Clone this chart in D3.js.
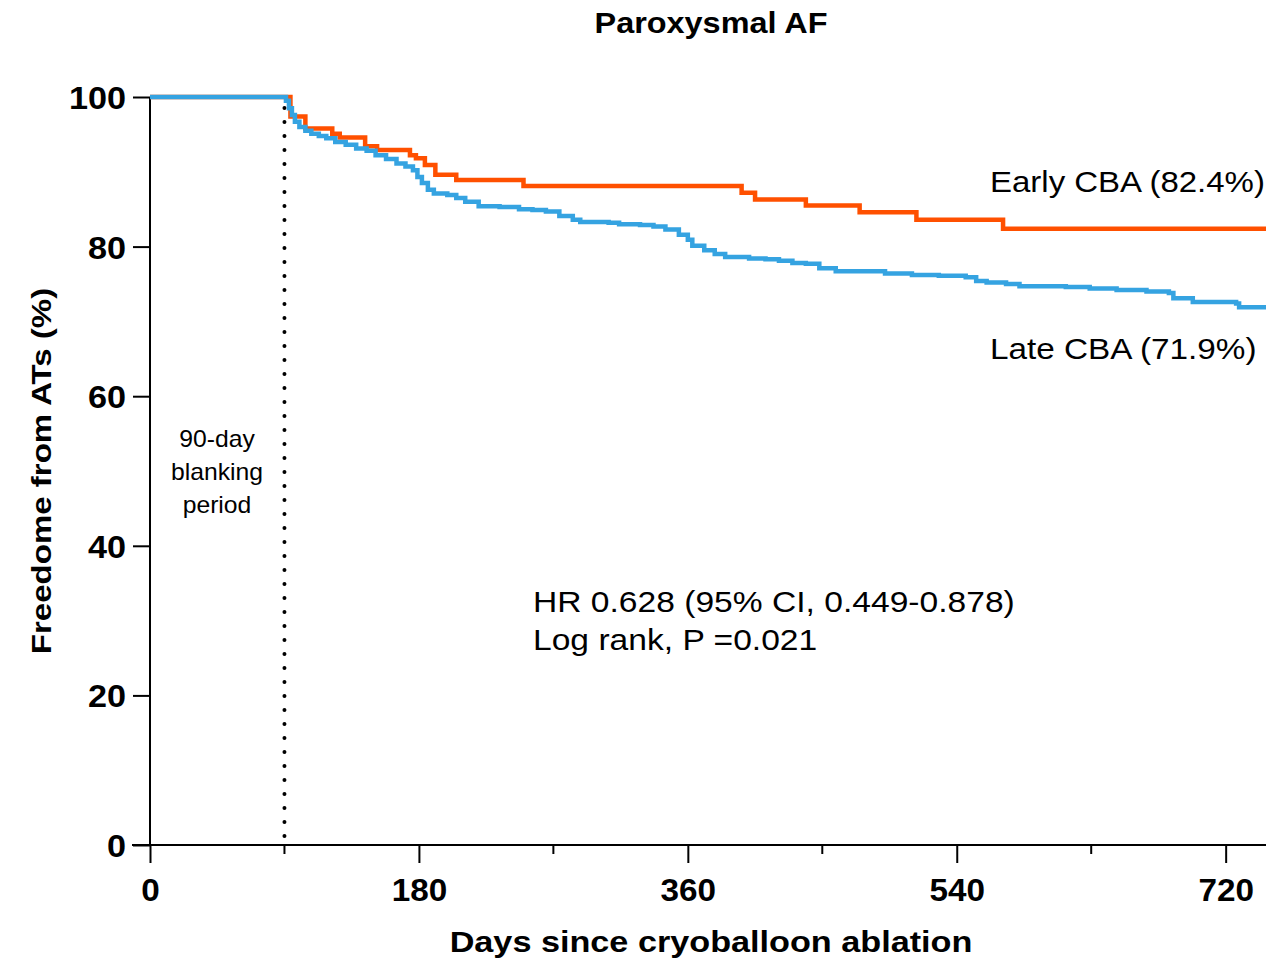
<!DOCTYPE html>
<html>
<head>
<meta charset="utf-8">
<script src="https://cdn.jsdelivr.net/npm/d3@7"></script>
<style>
  body { margin: 0; background: #fff; }
  svg { display: block; font-family: "Liberation Sans", Arial, Helvetica, sans-serif; }
</style>
</head>
<body>
<div id="chart"></div>
<script>
// Kaplan-Meier steps: [day, % free from ATs]
var earlyCBA = [
    [0, 100], [94, 97.4], [104, 95.8], [122, 95.1], [127, 94.6], [144, 93.4],
    [152, 92.9], [174, 92.2], [178, 91.8], [184, 90.9], [191, 89.6], [205, 88.9],
    [250, 88.1], [396, 87.2], [405, 86.3], [439, 85.5], [475, 84.6], [513, 83.6],
    [571, 82.4]
];
var lateCBA = [
    [0, 100], [91, 99.5], [93, 98.5], [95, 97.6], [97, 96.7], [100, 96.0],
    [104, 95.5], [108, 95.1], [113, 94.8], [118, 94.5], [124, 94.0], [131, 93.6],
    [138, 93.1], [145, 92.8], [151, 92.2], [158, 91.7], [165, 91.1], [171, 90.7],
    [176, 90.2], [179, 89.3], [182, 88.5], [186, 87.6], [190, 87.1], [199, 86.9],
    [205, 86.5], [211, 86.0], [220, 85.4], [234, 85.3], [247, 85.0], [256, 84.9],
    [265, 84.7], [274, 84.1], [283, 83.6], [288, 83.3], [307, 83.2], [314, 83.0],
    [328, 82.9], [337, 82.7], [345, 82.3], [354, 81.6], [360, 80.9], [363, 80.1],
    [371, 79.5], [378, 79.0], [385, 78.6], [401, 78.4], [412, 78.3], [421, 78.1],
    [430, 77.8], [439, 77.7], [448, 77.1], [459, 76.7], [492, 76.4], [510, 76.2],
    [528, 76.1], [546, 75.9], [553, 75.4], [560, 75.2], [573, 75.0], [582, 74.7],
    [613, 74.6], [629, 74.4], [647, 74.2], [667, 74.0], [682, 73.8], [685, 73.1],
    [698, 72.6], [727, 72.4], [729, 71.9]
];
var xMajorTicks = [0, 180, 360, 540, 720];
var xMinorTicks = [90, 270, 450, 630];
var yTicks = [0, 20, 40, 60, 80, 100];
var blankingDay = 90;
var blankingLabel = ['90-day', 'blanking', 'period'];
var statsLabel = ['HR 0.628 (95% CI, 0.449-0.878)', 'Log rank, P =0.021'];
var seriesLabels = ['Early CBA (82.4%)', 'Late CBA (71.9%)'];

var width = 1266, height = 962;
var xMax = 747;

var svg = d3.select('#chart').append('svg')
    .attr('width', width)
    .attr('height', height);

var x = d3.scaleLinear().domain([0, xMax]).range([150, 1266]);
var y = d3.scaleLinear().domain([0, 100]).range([845, 97]);

// the source figure's type runs a little wide, so stretch text horizontally
var wideText = function(parent, tx, ty, str, size, sx, bold, anchor) {
    return parent.append('text')
        .attr('transform', 'translate(' + [tx, ty] + ') scale(' + sx + ',1)')
        .attr('text-anchor', anchor || 'start')
        .style('font-size', size + 'px')
        .style('font-weight', bold ? 'bold' : 'normal')
        .text(str);
};

// title
wideText(svg, 711, 33, 'Paroxysmal AF', 30, 1.08, true, 'middle');

// y axis
var yAxis = svg.append('g')
    .attr('transform', 'translate(150,0)')
    .call(d3.axisLeft(y).tickValues(yTicks).tickSize(17).tickPadding(6));
yAxis.select('.domain').attr('d', 'M0,' + y(100) + 'V' + y(0));
yAxis.selectAll('line, path').attr('stroke', '#000').attr('stroke-width', 2);
yAxis.selectAll('text')
    .attr('x', 0)
    .attr('transform', 'translate(-24,0) scale(1.07,1)')
    .style('font-size', '32px').style('font-weight', 'bold')
    .attr('fill', '#000').attr('dy', '0.36em');

// x axis
var xAxis = svg.append('g')
    .attr('transform', 'translate(0,' + y(0) + ')')
    .call(d3.axisBottom(x).tickValues(xMajorTicks).tickSize(18).tickPadding(15));
xAxis.select('.domain').attr('d', 'M132,0H' + width);
xAxis.selectAll('line, path').attr('stroke', '#000').attr('stroke-width', 2);
xAxis.selectAll('text')
    .attr('transform', 'scale(1.04,1)')
    .style('font-size', '32px').style('font-weight', 'bold')
    .attr('fill', '#000');

svg.append('g')
    .attr('transform', 'translate(0,' + y(0) + ')')
    .selectAll('line.minor')
    .data(xMinorTicks)
    .enter().append('line')
    .classed('minor', true)
    .attr('x1', function(d) { return x(d); })
    .attr('x2', function(d) { return x(d); })
    .attr('y1', 0).attr('y2', 9)
    .attr('stroke', '#000').attr('stroke-width', 2);

// axis titles
wideText(svg, 711, 952, 'Days since cryoballoon ablation', 29, 1.18, true, 'middle');

svg.append('text')
    .attr('transform', 'translate(51,471) rotate(-90) scale(1.18,1)')
    .attr('text-anchor', 'middle')
    .style('font-size', '28px').style('font-weight', 'bold')
    .text('Freedome from ATs (%)');

// blanking period marker
svg.append('line')
    .attr('x1', x(blankingDay)).attr('x2', x(blankingDay))
    .attr('y1', 108).attr('y2', y(0))
    .attr('stroke', '#000').attr('stroke-width', 4)
    .attr('stroke-linecap', 'round')
    .attr('stroke-dasharray', '0 14');

blankingLabel.forEach(function(d, i) {
    wideText(svg, 217, 447 + i * 33, d, 24, 1.03, false, 'middle');
});

// survival curves
var line = d3.line()
    .x(function(d) { return x(d[0]); })
    .y(function(d) { return y(d[1]); })
    .curve(d3.curveStepAfter);

var series = [
    { data: earlyCBA, color: '#ff5000' },
    { data: lateCBA, color: '#35a3e1' }
];

series.forEach(function(s) {
    var pts = s.data.concat([[xMax, s.data[s.data.length - 1][1]]]);
    svg.append('path')
        .datum(pts)
        .attr('d', line)
        .attr('fill', 'none')
        .attr('stroke', s.color)
        .attr('stroke-width', 4.5);
});

// labels
wideText(svg, 990, 192, seriesLabels[0], 30, 1.1, false);
wideText(svg, 990, 359, seriesLabels[1], 30, 1.11, false);

statsLabel.forEach(function(d, i) {
    wideText(svg, 533, 612 + i * 38, d, 30, 1.12, false);
});
</script>
</body>
</html>
